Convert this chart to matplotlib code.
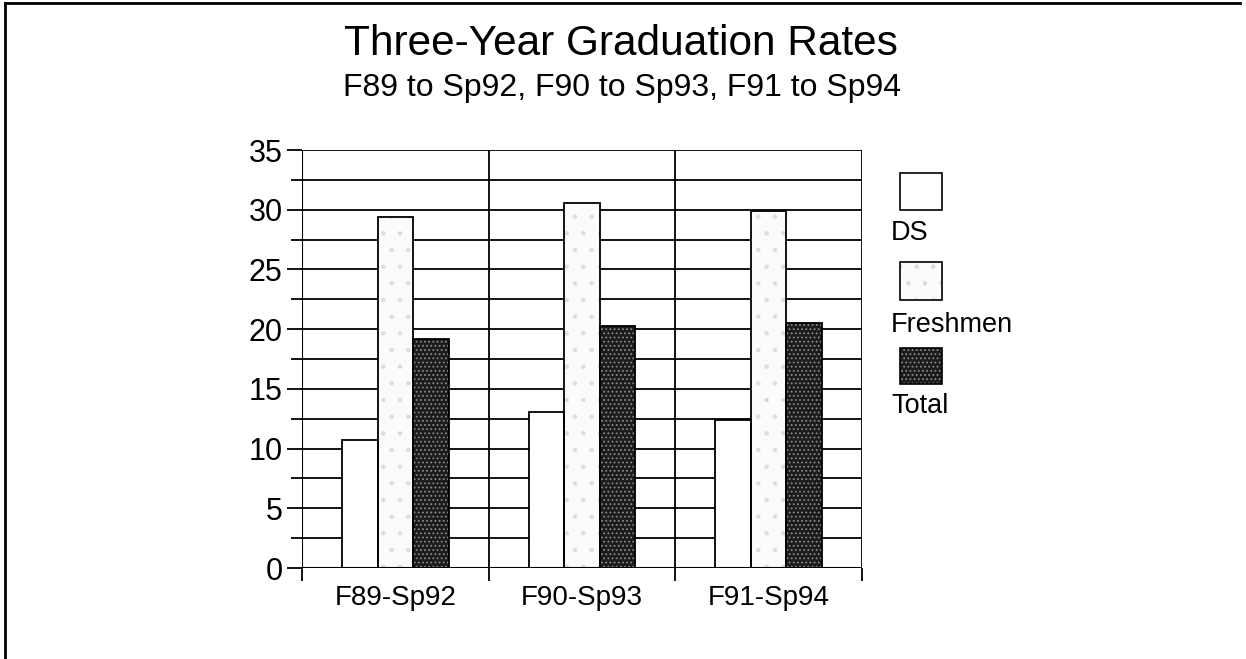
import matplotlib
matplotlib.use("Agg")
import matplotlib.pyplot as plt
from matplotlib.patches import Rectangle
from matplotlib.lines import Line2D
import numpy as np

plt.rcParams['font.family'] = ['Liberation Sans', 'DejaVu Sans']

categories = ["F89-Sp92", "F90-Sp93", "F91-Sp94"]
series_names = ["DS", "Freshmen", "Total"]
ds = [10.7, 13.1, 12.4]
freshmen = [29.4, 30.6, 29.9]
total = [19.2, 20.3, 20.5]
yticks = [0, 5, 10, 15, 20, 25, 30, 35]

fig = plt.figure(figsize=(12.46, 6.59), dpi=100)
ax = fig.add_axes([302/1246, 1-568/659, 560/1246, 418/659])

x = np.arange(len(categories))
w = 0.19
plt.rcParams['hatch.linewidth'] = 0.8
styles = [
    dict(facecolor='white', hatch=None, hc='white'),
    dict(facecolor='#fbfbfb', hatch='.', hc='#dddddd'),
    dict(facecolor='#1c1c1c', hatch='....', hc='#8a8a8a'),
]
data = [ds, freshmen, total]
for i, (vals, st) in enumerate(zip(data, styles)):
    pos = x + (i - 1) * w
    ax.bar(pos, vals, w, color=st['facecolor'], hatch=st['hatch'],
           edgecolor=st['hc'], linewidth=0, zorder=3)
    ax.bar(pos, vals, w, fill=False, edgecolor='black', linewidth=1.3, zorder=4)

ax.set_xlim(-0.5, 2.5)
ax.set_ylim(0, 35)
ax.set_yticks(yticks)
ax.set_yticklabels([str(v) for v in yticks], fontsize=22)
ax.set_yticks(np.arange(2.5, 35, 5), minor=True)
ax.set_xticks([-0.5, 0.5, 1.5, 2.5])
ax.set_xticklabels([])
ax.tick_params(axis='x', which='major', length=9, width=1.3, direction='out')
ax.tick_params(axis='y', which='major', length=11, width=1.3, direction='out', pad=3)
ax.tick_params(axis='y', which='minor', length=8, width=1.3, direction='out')
for xi, lab in zip(x, categories):
    ax.text(xi, -37/11.94, lab, ha='center', va='baseline', fontsize=20)

ax.grid(True, axis='y', which='both', color='black', linewidth=1.3, zorder=0)
ax.grid(True, axis='x', which='major', color='black', linewidth=1.3, zorder=0)
for s in ['left', 'bottom', 'top', 'right']:
    ax.spines[s].set_visible(False)
ax.axvline(-0.5, color='black', lw=1.5, zorder=1)
ax.axhline(0, color='black', lw=1.5, zorder=5)
ax.set_axisbelow(True)

fig.text(0.498, 1-44/659, "Three-Year Graduation Rates", ha='center', va='center', fontsize=30.5)
fig.text(0.4995, 1-88/659, "F89 to Sp92, F90 to Sp93, F91 to Sp94", ha='center', va='center', fontsize=23)

# legend
leg_boxes = [(173, 210), (262, 300), (348, 384)]
leg_baselines = [240, 332, 413]
for name, st, (top, bot), base in zip(series_names, styles, leg_boxes, leg_baselines):
    fig.patches.append(Rectangle((900/1246, 1-bot/659), 42/1246, (bot-top)/659,
                                 transform=fig.transFigure, facecolor=st['facecolor'],
                                 hatch=st['hatch'], edgecolor=st['hc'], linewidth=0))
    fig.patches.append(Rectangle((900/1246, 1-bot/659), 42/1246, (bot-top)/659,
                                 transform=fig.transFigure, fill=False,
                                 edgecolor='black', linewidth=1.2))
    fig.text(891/1246, 1-base/659, name, ha='left', va='baseline', fontsize=19.5)

# frame
fig.add_artist(Line2D([5/1246, 1240/1246], [1-3/659, 1-3/659], color='black', lw=2, transform=fig.transFigure))
fig.add_artist(Line2D([5/1246, 5/1246], [0, 1-3/659], color='black', lw=2, transform=fig.transFigure))

fig.savefig("out.png", dpi=100, facecolor='white')
